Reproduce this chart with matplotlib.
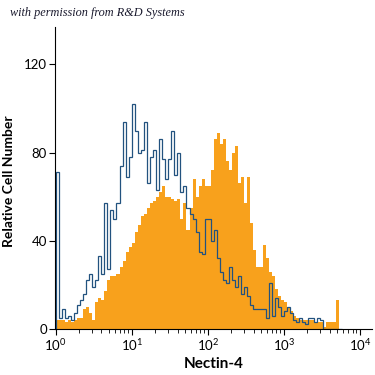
import numpy as np
import matplotlib
matplotlib.use("Agg")
import matplotlib.pyplot as plt
from matplotlib.ticker import LogLocator, FixedLocator

# channel counts, 25 channels per decade starting at 10^0
isotype = [71, 5, 9, 5, 6, 4, 7, 11, 13, 16,
           22, 25, 19, 22, 33, 25, 57, 27, 54, 50,
           57, 74, 94, 69, 78, 102, 90, 80, 81, 94,
           66, 78, 81, 63, 86, 77, 68, 77, 90, 70,
           80, 62, 65, 55, 52, 50, 44, 35, 34, 50,
           50, 40, 45, 32, 26, 22, 21, 28, 22, 19,
           24, 16, 19, 15, 11, 9, 9, 9, 9, 5,
           21, 6, 14, 10, 6, 8, 10, 7, 4, 3,
           5, 3, 2, 5, 5, 3, 5, 4, 0, 0,
           0, 0, 0, 0]
nectin4 = [4, 4, 4, 3, 4, 3, 4, 5, 5, 9,
           10, 7, 4, 12, 14, 13, 17, 22, 24, 24,
           25, 28, 31, 35, 37, 39, 44, 47, 51, 52,
           55, 57, 58, 60, 62, 65, 60, 60, 59, 58,
           59, 50, 57, 45, 55, 68, 60, 65, 68, 65,
           65, 72, 86, 89, 84, 86, 76, 72, 80, 83,
           66, 69, 57, 69, 48, 36, 28, 28, 38, 32,
           26, 24, 18, 15, 13, 12, 10, 8, 6, 5,
           4, 4, 4, 4, 4, 3, 3, 3, 1, 3,
           3, 3, 13, 0]

edges = 10 ** (np.arange(len(nectin4) + 1) * 0.04)

orange = "#F8A11C"
blue = "#22527F"
lab_font = "Lato"

plt.rcParams["mathtext.fontset"] = "custom"
plt.rcParams["mathtext.rm"] = lab_font
plt.rcParams["mathtext.it"] = lab_font

fig = plt.figure(figsize=(3.75, 3.75), dpi=100)
ax = fig.add_axes([0.147, 0.123, 0.845, 0.805])

ax.stairs(nectin4, edges, fill=True, color=orange, lw=0)
ax.stairs(isotype, edges, color=blue, lw=0.9)

ax.set_xscale("log")
ax.set_xlim(0.985, 14400)
ax.set_ylim(0, 137)

ax.spines["top"].set_visible(False)
ax.spines["right"].set_visible(False)

ax.yaxis.set_major_locator(FixedLocator([0, 40, 80, 120]))
ax.xaxis.set_minor_locator(LogLocator(base=10, subs=np.arange(2, 10), numticks=20))
ax.tick_params(axis="both", which="major", direction="out", length=4, width=0.8,
               labelsize=9.5, pad=2)
ax.tick_params(axis="x", which="minor", direction="out", length=3, width=0.6)
ax.set_xticks([1, 10, 100, 1000, 10000])
ax.set_xticklabels([r"$10^{0}$", r"$10^{1}$", r"$10^{2}$", r"$10^{3}$", r"$10^{4}$"])
for lab in ax.get_yticklabels() + ax.get_xticklabels():
    lab.set_family(lab_font)

ax.set_xlabel("Nectin-4", family=lab_font, weight="bold", fontsize=11, labelpad=3)
ax.set_ylabel("Relative Cell Number", family=lab_font, weight="bold", fontsize=10)
ax.yaxis.set_label_coords(-0.128, 0.49)

fig.text(0.027, 0.965, "with permission from R&D Systems", family="Liberation Serif",
         style="italic", fontsize=8.8, color="#1a1a2e", va="center")

fig.savefig("out.png", dpi=100)
